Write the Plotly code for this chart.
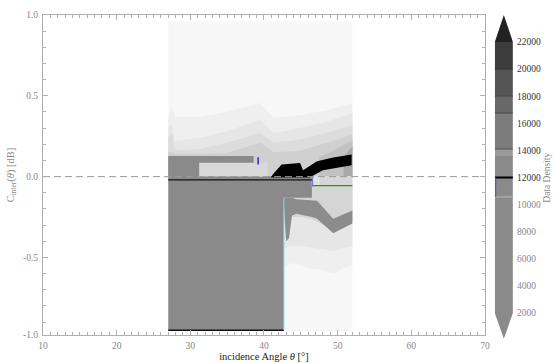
import plotly.graph_objects as go

# ---------------- data ----------------
region_x = [27.0, 52.0]          # extent of data coverage
region_y = [-0.96, 0.963]

band_x = [27.0, 27.5, 27.9, 31.3, 34.9, 39.5, 41.3, 44.9, 48.5, 52.0]
band1_top = [0.36, 0.443, 0.369, 0.369, 0.40, 0.455, 0.363, 0.38, 0.41, 0.455]
band2_top = [0.30, 0.33, 0.22, 0.24, 0.28, 0.35, 0.27, 0.30, 0.34, 0.39]
band3_top = [0.24, 0.27, 0.165, 0.17, 0.21, 0.27, 0.21, 0.23, 0.27, 0.32]
band4_top = [0.15, 0.15, 0.14, 0.14, 0.146, 0.21, 0.15, 0.16, 0.21, 0.26]
band5_x = [47.5, 49.0, 50.5, 52.0]
band5_top = [0.12, 0.15, 0.19, 0.22]
band6_x = [50.8, 51.5, 52.0]
band6_top = [0.12, 0.16, 0.19]

low_x = [42.7, 43.5, 45.0, 46.5, 48.0, 49.5, 51.0, 52.0]
low1_bot = [-0.56, -0.535, -0.55, -0.57, -0.58, -0.60, -0.56, -0.55]
low2_bot = [-0.45, -0.43, -0.43, -0.44, -0.45, -0.46, -0.44, -0.43]
low3_bot = [-0.30, -0.25, -0.25, -0.26, -0.30, -0.33, -0.30, -0.27]

gb_x = [42.7, 43.0, 43.4, 43.8, 44.4, 46.5, 47.2, 49.4, 52.0]
gb_top = [-0.13, -0.13, -0.13, -0.13, -0.14, -0.145, -0.15, -0.26, -0.21]
gb_bot = [-0.16, -0.40, -0.38, -0.24, -0.23, -0.25, -0.26, -0.35, -0.29]

block_x = [27.0, 38.6, 38.6, 46.5, 46.5, 42.7, 42.7, 27.0]
block_y = [0.127, 0.127, 0.0, 0.0, -0.13, -0.13, -0.95, -0.95]

lrect_x = [31.2, 40.5]
lrect_y = [0.0, 0.086]
lcol_x = [46.5, 47.6]
lcol_y = [-0.06, 0.0]

blob_x = [40.9, 41.3, 42.4, 44.9, 45.3, 47.2, 49.4, 51.9, 51.9, 48.0, 46.2, 40.9]
blob_y = [-0.005, 0.02, 0.075, 0.084, 0.04, 0.095, 0.118, 0.137, 0.07, 0.04, -0.005, -0.005]

black_line_x = [27.0, 46.5]
black_line_y = -0.02
bottom_line_x = [27.0, 42.7]
bottom_line_y = -0.95
green_line_x = [46.5, 52.0]
green_line_y = -0.056
blue_mark_x = [39.2, 39.2]
blue_mark_y = [0.075, 0.12]

# colorbar levels
cb_lo = [2000, 10560, 12000, 13580, 14100, 16760, 18000, 20000]
cb_hi = [10560, 12000, 13580, 14100, 16760, 18000, 20000, 22000]
cb_col = ['#8a8a8a', '#8a8a8a', '#8a8a8a', '#9a9a9a', '#7c7c7c', '#686868', '#555555', '#3c3c3c']
cb_ticks = [2000, 4000, 6000, 8000, 10000, 12000, 14000, 16000, 18000, 20000, 22000]

x_ticks = [10, 20, 30, 40, 50, 60, 70]
y_ticks = [-0.98, -0.5, 0.0, 0.5, 1.0]
y_ticktext = ['-1.0', '-0.5', '0.0', '0.5', '1.0']

FONT = 'Liberation Serif'

fig = go.Figure()

def poly(xs, ys, color):
    fig.add_trace(go.Scatter(x=xs, y=ys, fill='toself', fillcolor=color, mode='lines',
                             line=dict(width=0, color=color), hoverinfo='skip', showlegend=False))

def rect(xr, yr, color):
    poly([xr[0], xr[1], xr[1], xr[0]], [yr[0], yr[0], yr[1], yr[1]], color)

def line(xs, ys, color, width, dash=None):
    fig.add_trace(go.Scatter(x=xs, y=ys, mode='lines', line=dict(color=color, width=width, dash=dash),
                             hoverinfo='skip', showlegend=False))

# background of data region
rect(region_x, region_y, '#f7f7f7')

# upper contour bands
for xs, top, col in [(band_x, band1_top, '#efefef'), (band_x, band2_top, '#e6e6e6'),
                     (band_x, band3_top, '#dcdcdc'), (band_x, band4_top, '#d0d0d0'),
                     (band5_x, band5_top, '#c2c2c2'), (band6_x, band6_top, '#a8a8a8')]:
    poly(xs + xs[::-1], top + [0.0] * len(xs), col)

# lower contour bands
for bot, col in [(low1_bot, '#efefef'), (low2_bot, '#e6e6e6'), (low3_bot, '#d5d5d5')]:
    poly(low_x + low_x[::-1], [0.0] * len(low_x) + bot[::-1], col)

# gray wavy band
poly(gb_x + gb_x[::-1], gb_top + gb_bot[::-1], '#8c8c8c')

# main gray block
poly(block_x, block_y, '#8a8a8a')

# light rectangle and light column
rect(lrect_x, lrect_y, '#d9d9d9')
rect(lcol_x, lcol_y, '#e2e2e2')

# black blob
poly(blob_x, blob_y, '#000000')

# lines
line(black_line_x, [black_line_y] * 2, '#111111', 1.2)
line(bottom_line_x, [bottom_line_y] * 2, '#111111', 1.5)
line(green_line_x, [green_line_y] * 2, '#3a8a2a', 1.3)
line([bottom_line_x[1]] * 2, [bottom_line_y, block_y[4]], '#6fe0e8', 1)
line([lcol_x[0] + 0.1] * 2, lcol_y, '#6a6ad0', 1)
line(blue_mark_x, blue_mark_y, '#2a2ad0', 1.5)
# dashed zero line
line([x_ticks[0], x_ticks[-1]], [0, 0], '#999999', 1, '7px,4px')

# ---------------- colorbar as its own axis ----------------
for lo, hi, col in zip(cb_lo, cb_hi, cb_col):
    fig.add_trace(go.Bar(x=[0], y=[hi - lo], base=[lo], width=[1], marker=dict(color=col, line=dict(width=0)),
                         xaxis='x2', yaxis='y2', hoverinfo='skip', showlegend=False))
fig.add_trace(go.Scatter(x=[-0.5, 0.5, 0, -0.5], y=[cb_hi[-1], cb_hi[-1], 24000, cb_hi[-1]],
                         fill='toself', fillcolor='#222222', mode='lines', line=dict(width=0),
                         xaxis='x2', yaxis='y2', hoverinfo='skip', showlegend=False))
fig.add_trace(go.Scatter(x=[-0.5, 0.5, 0, -0.5], y=[cb_lo[0], cb_lo[0], 100, cb_lo[0]],
                         fill='toself', fillcolor='#8a8a8a', mode='lines', line=dict(width=0),
                         xaxis='x2', yaxis='y2', hoverinfo='skip', showlegend=False))
for yv, col, w in [(12000, '#000000', 2), (10560, '#bbbbbb', 1), (14100, '#555555', 1),
                   (16760, '#444444', 1), (18000, '#444444', 1), (20000, '#333333', 1)]:
    fig.add_trace(go.Scatter(x=[-0.5, 0.5], y=[yv, yv], mode='lines', line=dict(color=col, width=w),
                             xaxis='x2', yaxis='y2', hoverinfo='skip', showlegend=False))
fig.add_trace(go.Scatter(x=[-0.45, -0.45], y=[10560, 12000], mode='lines', line=dict(color='#5050a0', width=1),
                         xaxis='x2', yaxis='y2', hoverinfo='skip', showlegend=False))

cb_text = []
for t in cb_ticks:
    c = '#333333' if t >= 12000 else '#888888'
    cb_text.append('<span style="color:%s">%d</span>' % (c, t))

axis_common = dict(showgrid=False, zeroline=False, showline=True, linecolor='#b0b0b0', linewidth=1,
                   mirror='ticks', ticks='inside', ticklen=5, tickcolor='#b0b0b0', automargin=False,
                   tickfont=dict(family=FONT, size=9.5, color='#888888'))

fig.update_layout(
    width=553, height=363,
    margin=dict(l=43, r=20, t=14, b=22, autoexpand=False),
    paper_bgcolor='white', plot_bgcolor='white',
    barmode='overlay',
    xaxis=dict(domain=[0, 0.902], range=[10, 70], tickmode='array', tickvals=x_ticks,
               ticklabelstandoff=2,
               minor=dict(dtick=1, tick0=10, ticks='inside', ticklen=3, tickcolor='#b0b0b0'),
               title=dict(text='incidence Angle <i>θ</i> [°]', standoff=1,
                          font=dict(family=FONT, size=10.5, color='#222222')),
               **axis_common),
    yaxis=dict(domain=[0.0183, 0.997], range=[-0.98, 1.0], tickmode='array', tickvals=y_ticks,
               ticktext=y_ticktext, ticklabelstandoff=2,
               minor=dict(dtick=0.1, tick0=0, ticks='inside', ticklen=3, tickcolor='#b0b0b0'),
               title=dict(text='C<sub>inter</sub>(<i>θ</i>) [dB]', standoff=6,
                          font=dict(family=FONT, size=10.5, color='#888888')),
               **axis_common),
    xaxis2=dict(domain=[0.922, 0.959], range=[-0.5, 0.5], anchor='y2', visible=False, fixedrange=True,
                automargin=False),
    yaxis2=dict(domain=[0.003, 1.0], range=[0, 24066], anchor='x2', side='right',
                tickmode='array', tickvals=cb_ticks, ticktext=cb_text, ticks='', showgrid=False,
                zeroline=False, showline=False, ticklabelstandoff=3, automargin=False,
                tickfont=dict(family=FONT, size=9.5, color='#555555')),
    annotations=[dict(text='Data Density', xref='paper', yref='paper', x=1.027, y=0.5,
                      xanchor='center', yanchor='middle', textangle=-90, showarrow=False,
                      font=dict(family=FONT, size=9.5, color='#888888'))],
)

fig.write_html('out.html')
